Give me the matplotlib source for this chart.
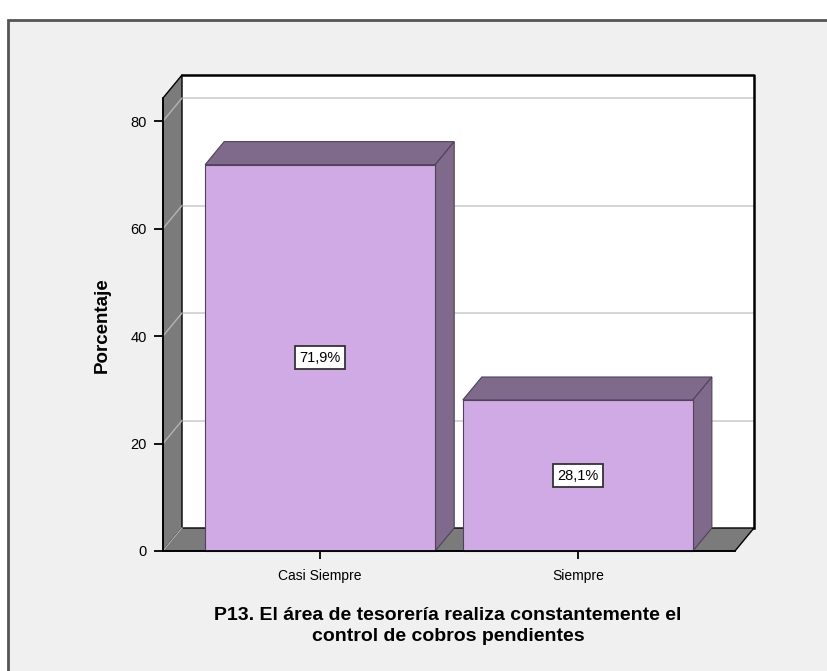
import matplotlib
matplotlib.use('Agg')
import matplotlib.pyplot as plt
from matplotlib.patches import Polygon, Rectangle

plt.rcParams['font.family'] = ['Liberation Sans', 'DejaVu Sans']

categories = ['Casi Siempre', 'Siempre']
porcentajes = [71.9, 28.1]
etiquetas = ['71,9%', '28,1%']
y_ticks = [0, 20, 40, 60, 80]
titulo = 'P13. El área de tesorería realiza constantemente el\ncontrol de cobros pendientes'

BAR_FRONT = '#d0aae4'
BAR_DARK = '#7f6a8c'
BAR_EDGE = '#4f4359'
WALL = '#7b7b7b'
GRID = '#d2d2d2'

W, H = 827, 671
fig = plt.figure(figsize=(W / 100, H / 100), dpi=100)
fig.patch.set_facecolor('white')

# grey panel with its dark frame (right/bottom edges run off the canvas)
fig.patches.append(Rectangle((8 / W, -0.05), 1.1, 1.05 - 20 / H,
                             transform=fig.transFigure, facecolor='#f0f0f0',
                             edgecolor='#555555', lw=2, zorder=-5))

ax = fig.add_axes([163 / W, 1 - 551 / H, 572 / W, 453 / H])
xl, xr = -0.61, 1.61
ymax = 84.3
ax.set_xlim(xl, xr)
ax.set_ylim(0, ymax)
ax.patch.set_visible(False)
for s in ('top', 'right'):
    ax.spines[s].set_visible(False)
for s in ('left', 'bottom'):
    ax.spines[s].set_color('black')
    ax.spines[s].set_linewidth(1.3)
    ax.spines[s].set_zorder(6)

# depth of the pseudo-3D box, 19 px right and 23 px up
inv = ax.transData.inverted()
p0 = inv.transform((0, 0))
p1 = inv.transform((19, 23))
ddx, ddy = p1[0] - p0[0], p1[1] - p0[1]

# back wall
ax.add_patch(Rectangle((xl + ddx, ddy), xr - xl, ymax, facecolor='white',
                       edgecolor='none', zorder=0, clip_on=False))
for t in y_ticks[1:]:
    ax.plot([xl + ddx, xr + ddx], [t + ddy, t + ddy], color=GRID, lw=1.3,
            zorder=0.5, clip_on=False)
ax.plot([xl + ddx, xr + ddx, xr + ddx], [ymax + ddy, ymax + ddy, ddy],
        color='black', lw=1.8, zorder=0.6, clip_on=False)

# left wall and floor
ax.add_patch(Polygon([(xl, 0), (xl, ymax), (xl + ddx, ymax + ddy), (xl + ddx, ddy)],
                     closed=True, facecolor=WALL, edgecolor='black', lw=1,
                     zorder=1, clip_on=False))
ax.add_patch(Polygon([(xl, 0), (xr, 0), (xr + ddx, ddy), (xl + ddx, ddy)],
                     closed=True, facecolor=WALL, edgecolor='black', lw=1,
                     zorder=1, clip_on=False))
for t in y_ticks:
    ax.plot([xl, xl + ddx], [t, t + ddy], color='#b4b4b4', lw=1,
            zorder=1.5, clip_on=False)

# bars
bw = 0.893
for i, v in enumerate(porcentajes):
    x0, x1 = i - bw / 2, i + bw / 2
    ax.add_patch(Polygon([(x0, v), (x1, v), (x1 + ddx, v + ddy), (x0 + ddx, v + ddy)],
                         closed=True, facecolor=BAR_DARK, edgecolor=BAR_EDGE,
                         lw=0.8, zorder=3, clip_on=False))
    ax.add_patch(Polygon([(x1, 0), (x1 + ddx, ddy), (x1 + ddx, v + ddy), (x1, v)],
                         closed=True, facecolor=BAR_DARK, edgecolor=BAR_EDGE,
                         lw=0.8, zorder=3, clip_on=False))
    ax.add_patch(Rectangle((x0, 0), bw, v, facecolor=BAR_FRONT,
                           edgecolor=BAR_EDGE, lw=0.8, zorder=4, clip_on=False))
    ax.text(i, v / 2, etiquetas[i], ha='center', va='center', fontsize=10.5,
            zorder=5, bbox=dict(boxstyle='square,pad=0.3', facecolor='white',
                                edgecolor='#333333', lw=1.3))

ax.set_yticks(y_ticks)
ax.set_xticks(range(len(categories)), categories)
ax.tick_params(axis='y', direction='out', length=6.5, width=1.3, labelsize=10.5,
               pad=5, colors='black')
ax.tick_params(axis='x', direction='out', length=6, width=1.3, labelsize=10,
               pad=7, colors='black')

fig.text(102 / W, 1 - 325 / H, 'Porcentaje', rotation=90, ha='center',
         va='center', fontsize=13.5, fontweight='bold')
fig.text(448 / W, 1 - 626 / H, titulo, ha='center', va='center',
         multialignment='center', fontsize=14, fontweight='bold',
         linespacing=1.25)

fig.savefig('out.png', dpi=100)
